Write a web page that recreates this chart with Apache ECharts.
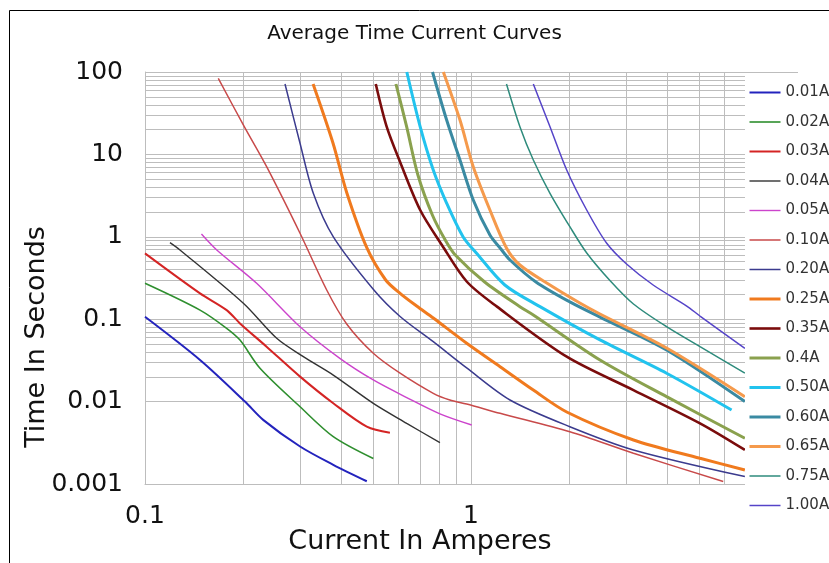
<!DOCTYPE html>
<html>
<head>
<meta charset="utf-8">
<script src="https://cdn.jsdelivr.net/npm/echarts@6/dist/echarts.min.js"></script>
<style>
html,body{margin:0;padding:0;background:#fff;}
#chart{width:829px;height:563px;}
</style>
</head>
<body>
<div id="chart"></div>
<script>
// Series names (legend order)
const seriesNames = ['0.01A','0.02A','0.03A','0.04A','0.05A','0.10A','0.20A','0.25A','0.35A','0.4A','0.50A','0.60A','0.65A','0.75A','1.00A'];

// [current (A), time (s)]
const c001 = [[0.1,0.107],[0.1475,0.032],[0.2026,0.0100],[0.2304,0.0060],[0.299,0.00285],[0.378,0.00171],[0.479,0.00108]];
const c002 = [[0.1,0.273],[0.1475,0.129],[0.178,0.0776],[0.1956,0.0558],[0.2253,0.0254],[0.299,0.00866],[0.378,0.00376],[0.5015,0.00204]];
const c003 = [[0.1,0.63],[0.1475,0.206],[0.178,0.129],[0.1956,0.0889],[0.236,0.0464],[0.299,0.0201],[0.378,0.00955],[0.479,0.00497],[0.564,0.0042]];
const c004 = [[0.1193,0.849],[0.128,0.692],[0.2003,0.156],[0.2535,0.0586],[0.306,0.0351],[0.378,0.021],[0.5015,0.00953],[0.635,0.00545],[0.803,0.00317]];
const c005 = [[0.149,1.08],[0.166,0.692],[0.22,0.273],[0.299,0.081],[0.396,0.0335],[0.5015,0.0183],[0.635,0.0112],[0.803,0.0071],[1.005,0.0052]];
const c010 = [[0.1678,83.8],[0.2016,21.7],[0.2361,7.09],[0.2989,1.103],[0.3609,0.226],[0.4156,0.0875],[0.5015,0.0386],[0.606,0.0221],[0.766,0.0126],[0.861,0.01046],[0.97,0.00935],[1.228,0.00721],[2.01,0.00431],[3.15,0.00236],[5.94,0.00107]];
const c020 = [[0.2688,71.5],[0.2989,13.64],[0.3283,3.373],[0.3782,0.997],[0.5036,0.226],[0.606,0.1079],[0.766,0.0533],[0.97,0.0256],[1.317,0.01046],[2.01,0.00496],[3.15,0.00259],[6.92,0.00123]];
const c025 = [[0.3278,71.5],[0.3772,13.76],[0.4161,3.402],[0.4794,0.7316],[0.5474,0.2991],[0.606,0.2062],[0.6813,0.1446],[0.766,0.1034],[0.97,0.051],[1.228,0.0265],[1.553,0.0138],[1.966,0.00748],[3.15,0.00342],[5.04,0.00205],[6.92,0.00148]];
const c035 = [[0.5104,71.5],[0.5512,21.7],[0.606,8.08],[0.6983,2.114],[0.8142,0.795],[0.97,0.2867],[1.2014,0.142],[1.966,0.0351],[3.15,0.0138],[5.04,0.00545],[6.92,0.00259]];
const c040 = [[0.5885,71.5],[0.6347,21.7],[0.6873,5.62],[0.7612,1.839],[0.8336,0.9146],[0.8948,0.6014],[1.1015,0.283],[1.4126,0.142],[1.553,0.1125],[2.487,0.032],[3.98,0.01147],[6.92,0.00359]];
const c050 = [[0.6355,100],[0.6983,21.7],[0.766,6.47],[0.8423,2.552],[0.9461,0.997],[1.0385,0.636],[1.2699,0.26],[1.628,0.142],[2.487,0.056],[3.98,0.0221],[6.3,0.00791]];
const c060 = [[0.762,100],[0.842,26.1],[0.925,8.55],[1.016,2.8],[1.143,1.05],[1.228,0.731],[1.317,0.523],[1.582,0.283],[2.01,0.162],[2.487,0.106],[3.98,0.0423],[6.92,0.01]];
const c065 = [[0.8226,100],[0.925,26.1],[1.016,7.09],[1.143,2.114],[1.2848,0.7316],[1.4126,0.4547],[1.747,0.26],[2.157,0.1572],[2.487,0.1156],[3.98,0.0447],[6.92,0.01147]];
const c075 = [[1.2848,71.5],[1.4126,21.7],[1.553,8.55],[1.747,3.373],[2.01,1.326],[2.2648,0.636],[2.6765,0.2907],[3.15,0.1529],[3.98,0.0811],[5.04,0.0464],[6.92,0.0221]];
const c100 = [[1.553,71.5],[1.747,21.7],[1.966,6.47],[2.264,2.114],[2.608,0.834],[3.0,0.4676],[3.62,0.26],[4.59,0.1446],[5.04,0.1093],[6.92,0.0443]];

// Minor gridline values
const xMinor = [0.2,0.3,0.4,0.5,0.6,0.7,0.8,0.9,2,3,4,5,6,7,8,9];
const yMinor = [0.002,0.003,0.004,0.005,0.006,0.007,0.008,0.009,0.02,0.03,0.04,0.05,0.06,0.07,0.08,0.09,0.2,0.3,0.4,0.5,0.6,0.7,0.8,0.9,2,3,4,5,6,7,8,9,20,30,40,50,60,70,80,90];

const curves = [c001,c002,c003,c004,c005,c010,c020,c025,c035,c040,c050,c060,c065,c075,c100];
const colors = ['#2323bd','#2f8f2f','#d42424','#333333','#cc44cc','#c84a4a','#3b3b8e','#f07a1e','#7a0c0c','#8aa14e','#22c3ee','#3a8aa2','#f59a4c','#2e8b7c','#5544c8'];
const widths = [2,1.6,2,1.4,1.4,1.5,1.5,3,2.6,3,3,3,3,1.5,1.5];

const FONT = 'DejaVu Sans';
const gridColor = '#bdbdbd';

const series = [{
  name: 'grid',
  type: 'line',
  data: [],
  z: 1,
  silent: true,
  markLine: {
    silent: true,
    z: 1,
    symbol: ['none','none'],
    label: {show: false},
    animation: false,
    lineStyle: {color: gridColor, width: 1, type: 'solid'},
    data: xMinor.map(v => ({xAxis: v})).concat(yMinor.map(v => ({yAxis: v})))
  }
}];
curves.forEach((d, i) => {
  series.push({
    name: seriesNames[i],
    type: 'line',
    data: d,
    symbol: 'none',
    smooth: 0.3,
    z: 3,
    lineStyle: {color: colors[i], width: widths[i]},
    itemStyle: {color: colors[i]}
  });
});

const chart = echarts.init(document.getElementById('chart'), null, {renderer: 'canvas'});
chart.setOption({
  animation: false,
  backgroundColor: '#fff',
  title: {
    text: 'Average Time Current Curves',
    left: 'center',
    top: 19,
    textStyle: {fontFamily: FONT, fontSize: 20, fontWeight: 'normal', color: '#111'}
  },
  grid: {left: 145, right: 32, top: 72, bottom: 79},
  xAxis: {
    type: 'log', logBase: 10, min: 0.1, max: 10,
    axisLine: {show: true, lineStyle: {color: gridColor}},
    axisTick: {show: false},
    axisLabel: {fontFamily: FONT, fontSize: 25, color: '#111', margin: 20},
    splitLine: {show: true, lineStyle: {color: gridColor, width: 1}},
    name: 'Current In Amperes',
    nameLocation: 'middle',
    nameGap: 44,
    nameMoveOverlap: false,
    nameTextStyle: {fontFamily: FONT, fontSize: 27, color: '#111', padding: [0, 102, 0, 0]}
  },
  yAxis: {
    type: 'log', logBase: 10, min: 0.001, max: 100,
    axisLine: {show: true, lineStyle: {color: gridColor}},
    axisTick: {show: false},
    axisLabel: {fontFamily: FONT, fontSize: 25, color: '#111', margin: 22},
    splitLine: {show: true, lineStyle: {color: gridColor, width: 1}},
    name: 'Time In Seconds',
    nameLocation: 'middle',
    nameGap: 95,
    nameMoveOverlap: false,
    nameTextStyle: {fontFamily: FONT, fontSize: 27, color: '#111', padding: [0, 118, 0, 0]}
  },
  legend: {
    data: seriesNames,
    orient: 'vertical',
    left: 745,
    top: 73,
    padding: [12, 20, 13, 3],
    itemGap: 14.5,
    itemWidth: 31,
    itemHeight: 15,
    backgroundColor: '#fff',
    itemStyle: {opacity: 0},
    lineStyle: {width: 'inherit'},
    textStyle: {fontFamily: FONT, fontSize: 15, color: '#333', lineHeight: 15},
    z: 10
  },
  graphic: [{
    type: 'rect',
    silent: true,
    z: 100,
    shape: {x: 9.5, y: 10.5, width: 1000, height: 1000},
    style: {fill: 'none', stroke: '#000', lineWidth: 1}
  }],
  series: series
});
</script>
</body>
</html>
